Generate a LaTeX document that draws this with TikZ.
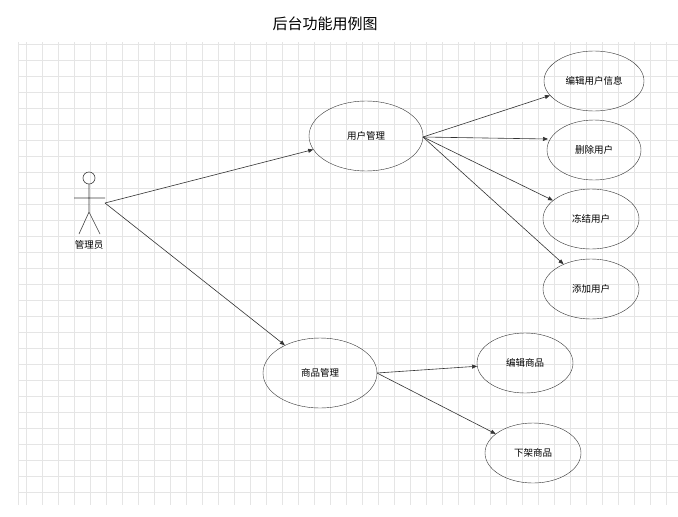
\documentclass[tikz,border=0pt]{standalone}
\usepackage{fontspec}
\newfontfamily\cjk{Noto Sans CJK SC}
\usetikzlibrary{arrows.meta,shapes.geometric}
\begin{document}
\begin{tikzpicture}[x=1pt,y=-1pt,
  uc/.style={draw=black!80,ellipse,font=\cjk\fontsize{9.5}{11}\selectfont,inner sep=0},
  con/.style={draw=black!80,line width=0.6pt,-{Triangle[length=5pt,width=4pt]}}]
\useasboundingbox (0,0) rectangle (678,517);
\fill[white] (0,0) rectangle (678,517);
\foreach \x in {26,42,...,678} \draw[black!10] (\x,42) -- (\x,505);
\foreach \y in {44,60,...,505} \draw[black!10] (18,\y) -- (678,\y);
\draw[black!10] (18,42) -- (18,505);
\node[font=\cjk\fontsize{15}{18}\selectfont] (title) at (325,24) {后台功能用例图};
% actor
\draw[black!75,line width=0.6pt] (89,178) circle (6);
\draw[black!75,line width=0.6pt] (89,184) -- (89,212) (74,198) -- (105,198) (79,234) -- (89,212) -- (100,234);
\coordinate (act) at (105,203);
\node[font=\cjk\fontsize{9.5}{11}\selectfont] (actl) at (89,245) {管理员};
\node[uc,minimum width=114,minimum height=70] (um) at (366,136) {用户管理};
\node[uc,minimum width=100,minimum height=60] (e1) at (594,81) {编辑用户信息};
\node[uc,minimum width=94,minimum height=60] (e2) at (594,150) {删除用户};
\node[uc,minimum width=96,minimum height=60] (e3) at (591,219) {冻结用户};
\node[uc,minimum width=96,minimum height=60] (e4) at (591,289) {添加用户};
\node[uc,minimum width=114,minimum height=70] (gm) at (320,373) {商品管理};
\node[uc,minimum width=96,minimum height=60] (g1) at (525,363) {编辑商品};
\node[uc,minimum width=96,minimum height=60] (g2) at (533,453) {下架商品};
\coordinate (umr) at (423,137);
\coordinate (gmr) at (377,373);
\coordinate (e2in) at (548,139);
\draw[con] (act) -- (um);
\draw[con] (act) -- (gm);
\draw[con] (umr) -- (e1);
\draw[con] (umr) -- (e2in);
\draw[con] (umr) -- (e3);
\draw[con] (umr) -- (e4);
\draw[con] (gmr) -- (g1);
\draw[con] (gmr) -- (g2);
\end{tikzpicture}
\end{document}
